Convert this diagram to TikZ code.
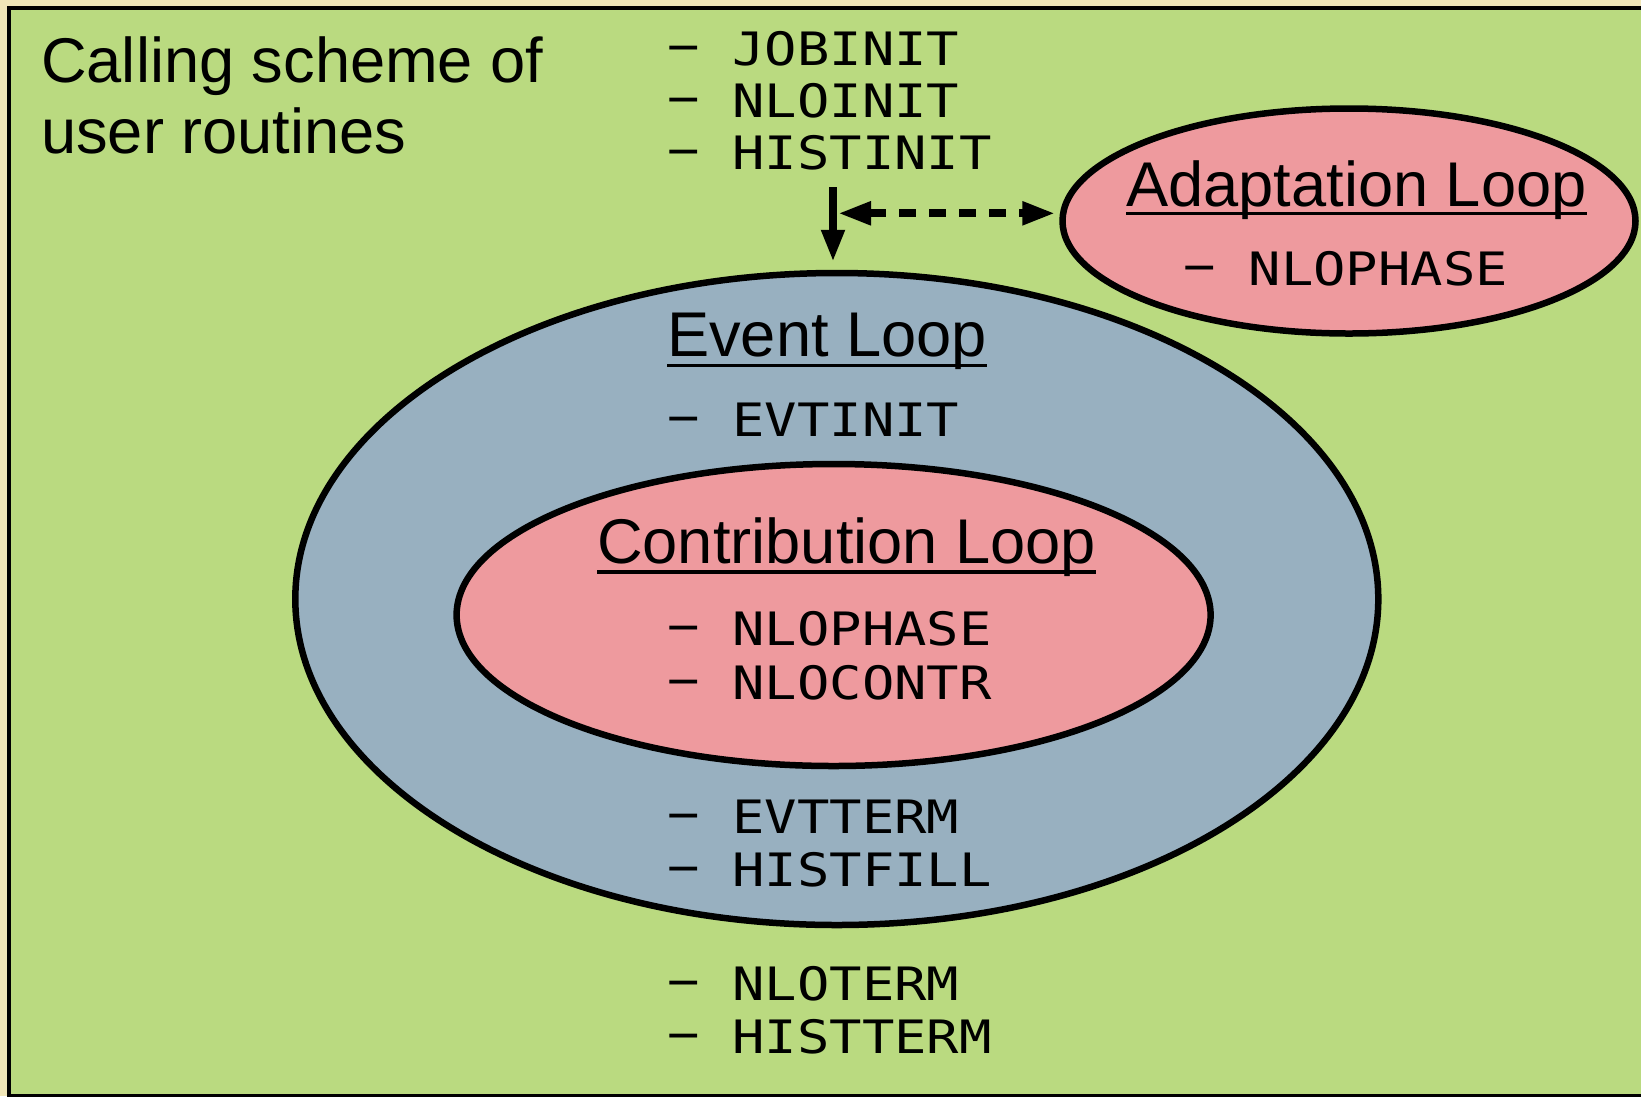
\documentclass[tikz,border=0pt]{standalone}
\usepackage{fontspec}
\setmainfont{Liberation Sans}
\newfontfamily\monof[FakeStretch=1.17]{DejaVu Sans Mono}
\usetikzlibrary{shapes.geometric,arrows.meta}
\definecolor{bgbeige}{HTML}{F0E6B8}
\definecolor{bggreen}{HTML}{BADA80}
\definecolor{evblue}{HTML}{98B0C0}
\definecolor{lpink}{HTML}{EE9A9E}
\newcommand{\itemdash}{\raisebox{3pt}{−}}
\tikzset{
  loopell/.style={ellipse, draw=black, line width=6.5pt, inner sep=0pt},
  sanstext/.style={anchor=base west, inner sep=0pt, font=\fontsize{63.2}{71}\selectfont},
  monotext/.style={anchor=base west, inner sep=0pt, font=\monof\fontsize{46}{53.3}\selectfont},
  uline/.style={line width=3.3pt},
  arr/.style={line width=7.7pt, -{Triangle[length=32pt,width=22pt]}},
  dasharr/.style={line width=8pt, {Triangle[length=33pt,width=22pt]}-{Triangle[length=33pt,width=22pt]}, dash pattern=on 16.7pt off 13.3pt},
}
\begin{document}
\begin{tikzpicture}[x=1pt,y=-1pt]
\fill[bgbeige] (0,0) rectangle (1641,1096);
\useasboundingbox (0,0) rectangle (1641,1096);
\begin{scope}
  \clip (0,0) rectangle (1641,1096);
  \draw[fill=bggreen, line width=4pt] (8.7,8) rectangle (1660,1096);
\end{scope}

% loops
\node[loopell, fill=evblue, minimum width=1083pt, minimum height=652pt] (event) at (836.8,599) {};
\node[loopell, fill=lpink, minimum width=754pt, minimum height=302pt] (contrib) at (833.6,615) {};
\node[loopell, fill=lpink, minimum width=573pt, minimum height=225pt] (adapt) at (1349,221) {};

% title
\node[sanstext] (title1) at (41,82) {Calling scheme of};
\node[sanstext] (title2) at (41,153) {user routines};

% init routines
\node[monotext] (jobinit) at (667.5,65) {\itemdash{} JOBINIT};
\node[monotext] (nloinit) at (667.5,117.3) {\itemdash{} NLOINIT};
\node[monotext] (histinit) at (667.5,169.6) {\itemdash{} HISTINIT};

% adaptation loop
\node[sanstext] (adtitle) at (1126,206.7) {Adaptation Loop};
\draw[uline] ([yshift=-7pt]adtitle.base west) -- ([yshift=-7pt]adtitle.base east);
\node[monotext] (adphase) at (1183.7,285) {\itemdash{} NLOPHASE};

% event loop
\node[sanstext] (evtitle) at (667,356.7) {Event Loop};
\draw[uline] ([yshift=-9pt]evtitle.base west) -- ([yshift=-9pt]evtitle.base east);
\node[monotext] (evtinit) at (667.5,436.7) {\itemdash{} EVTINIT};

% contribution loop
\node[sanstext] (cotitle) at (597,563) {Contribution Loop};
\draw[uline] ([yshift=-9pt]cotitle.base west) -- ([yshift=-9pt]cotitle.base east);
\node[monotext] (cophase) at (667.5,645) {\itemdash{} NLOPHASE};
\node[monotext] (cocontr) at (667.5,699) {\itemdash{} NLOCONTR};

% event termination
\node[monotext] (evtterm) at (667.5,833.3) {\itemdash{} EVTTERM};
\node[monotext] (histfill) at (667.5,886.7) {\itemdash{} HISTFILL};

% job termination
\node[monotext] (nloterm) at (667.5,1000) {\itemdash{} NLOTERM};
\node[monotext] (histterm) at (667.5,1053.3) {\itemdash{} HISTTERM};

% connectors
\coordinate (arrtop) at (833,187);
\draw[arr, shorten >=8pt] (arrtop) -- (arrtop |- event.north);
\coordinate (dashl) at (838,213.3);
\draw[dasharr, shorten >=4pt] (dashl) -- (dashl -| adapt.west);
\end{tikzpicture}
\end{document}
